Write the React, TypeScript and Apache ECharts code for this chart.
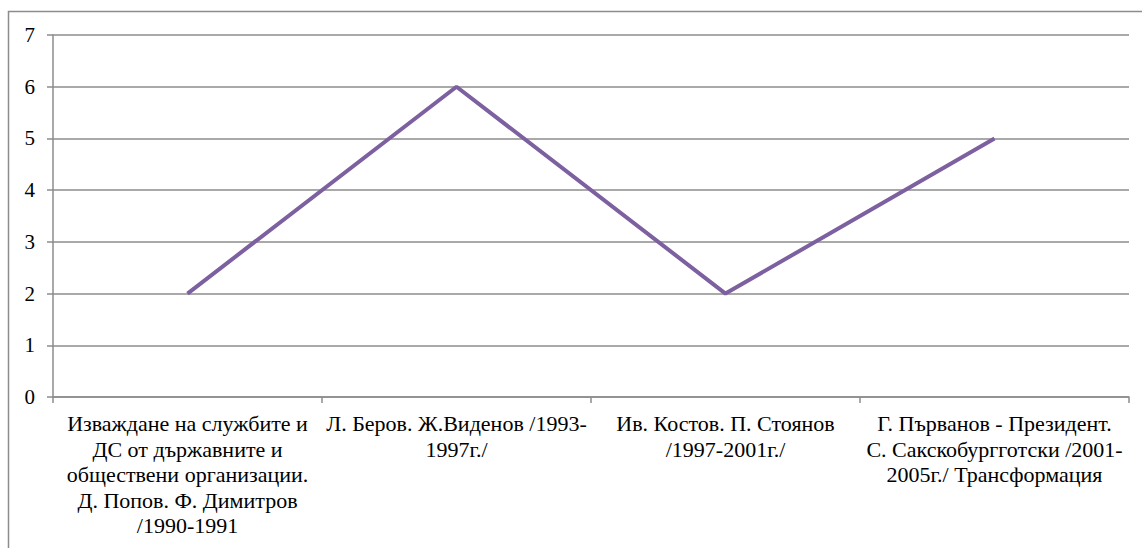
import React, { useEffect, useRef } from "react";
import * as echarts from "echarts";

const categories: string[] = [
  "Изваждане на службите и\nДС от държавните и\nобществени организации.\nД. Попов. Ф. Димитров\n/1990-1991",
  "Л. Беров. Ж.Виденов /1993-\n1997г./",
  "Ив. Костов. П. Стоянов\n/1997-2001г./",
  "Г. Първанов - Президент.\nС. Сакскобургготски /2001-\n2005г./ Трансформация",
];
const values: number[] = [2, 6, 2, 5];
const yTicks = { min: 0, max: 7, interval: 1 };

const FONT = "Liberation Serif, serif";
const GRAY = "#8c8c8c";

export default function App() {
  const ref = useRef<HTMLDivElement>(null);
  useEffect(() => {
    if (!ref.current) return;
    const chart = echarts.init(ref.current, undefined, { renderer: "svg" });
    chart.setOption({
      animation: false,
      backgroundColor: "#ffffff",
      textStyle: { fontFamily: FONT },
      graphic: [
        {
          type: "rect",
          shape: { x: 8.5, y: 11.5, width: 1200, height: 600 },
          style: { fill: "none", stroke: GRAY, lineWidth: 1.5 },
          silent: true,
        },
      ],
      grid: { left: 53, right: 13, top: 35, bottom: 151, containLabel: false },
      xAxis: {
        type: "category",
        data: categories,
        boundaryGap: true,
        axisLine: { show: true, lineStyle: { color: GRAY, width: 1.5 } },
        axisTick: { show: true, length: 6, alignWithLabel: false, lineStyle: { color: GRAY, width: 1.5 } },
        axisLabel: {
          interval: 0,
          margin: 14,
          color: "#000",
          fontFamily: FONT,
          fontSize: 22,
          lineHeight: 25.5,
          align: "center",
        },
        splitLine: { show: false },
      },
      yAxis: {
        type: "value",
        min: yTicks.min,
        max: yTicks.max,
        interval: yTicks.interval,
        axisLine: { show: true, lineStyle: { color: GRAY, width: 1.5 } },
        axisTick: { show: true, length: 6, lineStyle: { color: GRAY, width: 1.5 } },
        axisLabel: { margin: 18, color: "#000", fontFamily: FONT, fontSize: 21 },
        splitLine: { show: true, lineStyle: { color: GRAY, width: 1.5 } },
      },
      series: [
        {
          type: "line",
          data: values,
          symbol: "none",
          lineStyle: { color: "#7d60a0", width: 4 },
        },
      ],
    });
    return () => chart.dispose();
  }, []);
  return (
    <div
      ref={ref}
      style={{ position: "fixed", left: 0, top: 0, width: 1142, height: 548 }}
    />
  );
}
